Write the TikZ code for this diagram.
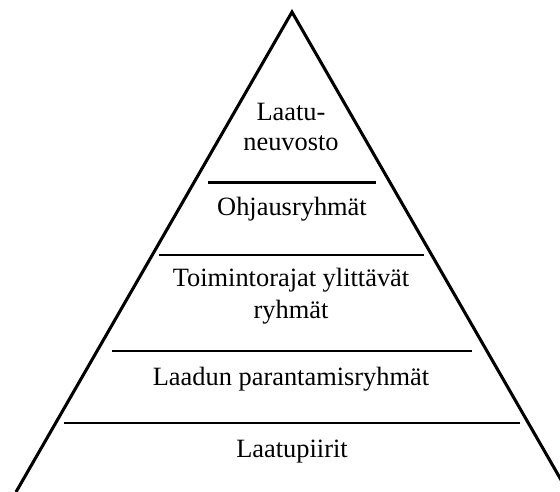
\documentclass[tikz,border=0pt]{standalone}
\usepackage{fontspec}
\setmainfont{Liberation Serif}
\begin{document}
\begin{tikzpicture}[x=0.75pt,y=-0.75pt,
  side/.style={line width=2.3pt,line cap=butt,line join=miter},
  divider/.style={line width=1.6pt},
  label/.style={anchor=base,inner sep=0pt,font=\fontsize{19.8}{23}\selectfont}]
  \useasboundingbox (0,0) rectangle (560,492);
  \clip (0,0) rectangle (560,492);
  % outline of the pyramid
  \coordinate (apex) at (292,12);
  \coordinate (baseL) at (16,492);
  \coordinate (baseR) at (568,492);
  \draw[side] (baseL) -- (apex) -- (baseR);
  % level dividers
  \coordinate (d1L) at (208,182.5); \coordinate (d1R) at (376,182.5);
  \coordinate (d2L) at (159,255);   \coordinate (d2R) at (424,255);
  \coordinate (d3L) at (112,351);   \coordinate (d3R) at (472,351);
  \coordinate (d4L) at (64,423);    \coordinate (d4R) at (520,423);
  \draw[divider] (d1L) -- (d1R);
  \draw[divider] (d2L) -- (d2R);
  \draw[divider] (d3L) -- (d3R);
  \draw[divider] (d4L) -- (d4R);
  % level labels
  \node[label] (lvl1a) at (291,120) {Laatu-};
  \node[label] (lvl1b) at (291,150) {neuvosto};
  \node[label] (lvl2)  at (292,215) {Ohjausryhmät};
  \node[label] (lvl3a) at (291,286) {Toimintorajat ylittävät};
  \node[label] (lvl3b) at (291,318) {ryhmät};
  \node[label] (lvl4)  at (291,385) {Laadun parantamisryhmät};
  \node[label] (lvl5)  at (292,457) {Laatupiirit};
\end{tikzpicture}
\end{document}
